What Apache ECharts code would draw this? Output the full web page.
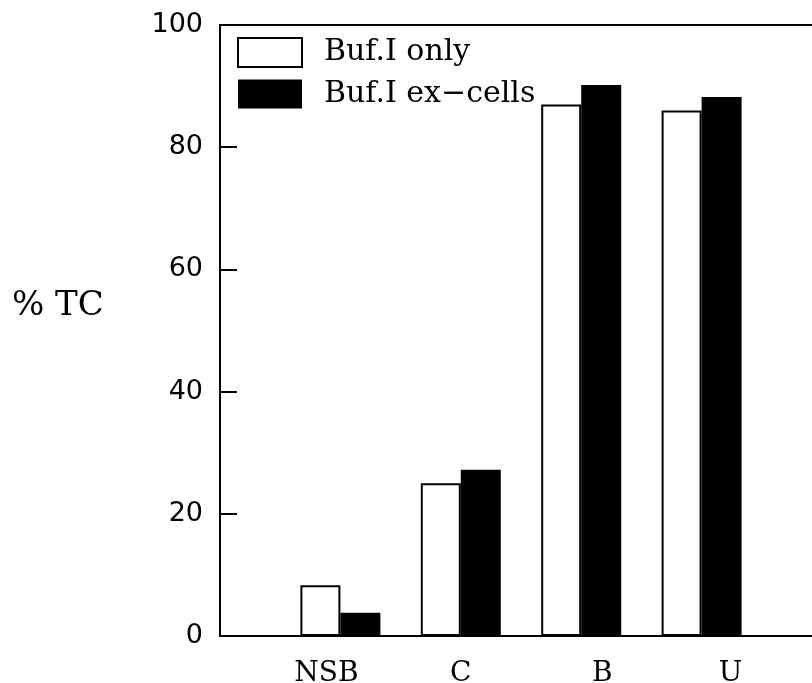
<!doctype html>
<html>
    <head>
        <meta charset="utf-8">
        <style>
            html, body { margin: 0; padding: 0; background: #fff; }
            #main { width: 812px; height: 683px; }
        </style>
    </head>
    <body>
        <div id="main"></div>
        <script src="https://cdn.jsdelivr.net/npm/echarts@6/dist/echarts.min.js"></script>
        <script>
            var categories = ['NSB', 'C', 'B', 'U'];
            var bufOnly = [8.3, 25, 87, 86];
            var bufExCells = [3.8, 27.2, 90.2, 88.2];
            var yTicks = [0, 20, 40, 60, 80, 100];

            // the printed labels sit a little off the bar pairs
            var labelPad = {
                NSB: [0, 28, 0, 0],
                C: [0, 0, 0, 0],
                B: [0, 0, 0, 42],
                U: [0, 0, 0, 58]
            };

            // one empty slot each side so the pairs fall where they do on the page
            var axisCats = [''].concat(categories, ['']);
            function padded(arr) {
                return [null].concat(arr, [null]);
            }

            var rich = {};
            categories.forEach(function (c, i) {
                rich['l' + i] = {
                    fontFamily: 'DejaVu Serif',
                    fontSize: 28,
                    color: '#000',
                    padding: labelPad[c]
                };
            });

            var chart = echarts.init(document.getElementById('main'));

            chart.setOption({
                animation: false,
                backgroundColor: '#fff',
                grid: {
                    left: 220,
                    top: 25,
                    width: 602,
                    height: 611,
                    outerBoundsMode: 'none',
                    containLabel: false,
                    show: true,
                    borderColor: '#000',
                    borderWidth: 2,
                    backgroundColor: 'transparent'
                },
                legend: {
                    orient: 'vertical',
                    left: 232,
                    top: 32,
                    itemWidth: 64,
                    itemHeight: 29,
                    itemGap: 11,
                    textStyle: {
                        fontFamily: 'DejaVu Serif',
                        fontSize: 30,
                        color: '#000',
                        padding: [0, 0, 0, 17]
                    },
                    data: [
                        { name: 'Buf.I only', icon: 'rect', itemStyle: { color: '#fff', borderColor: '#000', borderWidth: 2 } },
                        { name: 'Buf.I ex\u2212cells', icon: 'rect', itemStyle: { color: '#000', borderWidth: 0 } }
                    ]
                },
                xAxis: {
                    type: 'category',
                    data: axisCats,
                    boundaryGap: false,
                    axisLine: { lineStyle: { color: '#000', width: 2 } },
                    axisTick: { show: false },
                    splitLine: { show: false },
                    axisLabel: {
                        interval: 0,
                        margin: 24,
                        formatter: function (v) {
                            var i = categories.indexOf(v);
                            return i < 0 ? '' : '{l' + i + '|' + v + '}';
                        },
                        rich: rich
                    }
                },
                yAxis: {
                    type: 'value',
                    min: yTicks[0],
                    max: yTicks[yTicks.length - 1],
                    interval: 20,
                    axisLine: { show: true, lineStyle: { color: '#000', width: 2 } },
                    axisTick: { show: true, inside: true, length: 17, lineStyle: { color: '#000', width: 2 } },
                    splitLine: { show: false },
                    axisLabel: {
                        margin: 17,
                        fontFamily: 'DejaVu Sans',
                        fontSize: 27,
                        color: '#000'
                    }
                },
                graphic: [{
                    type: 'text',
                    left: 12,
                    top: 289,
                    style: {
                        text: '% TC',
                        fontFamily: 'DejaVu Serif',
                        fontSize: 34,
                        fill: '#000'
                    }
                }],
                series: [{
                    name: 'Buf.I only',
                    type: 'bar',
                    data: padded(bufOnly),
                    barWidth: 40,
                    barGap: '0%',
                    itemStyle: { color: '#fff', borderColor: '#000', borderWidth: 2 }
                }, {
                    name: 'Buf.I ex\u2212cells',
                    type: 'bar',
                    data: padded(bufExCells),
                    barWidth: 40,
                    barGap: '0%',
                    itemStyle: { color: '#000' }
                }]
            });
        </script>
    </body>
</html>
